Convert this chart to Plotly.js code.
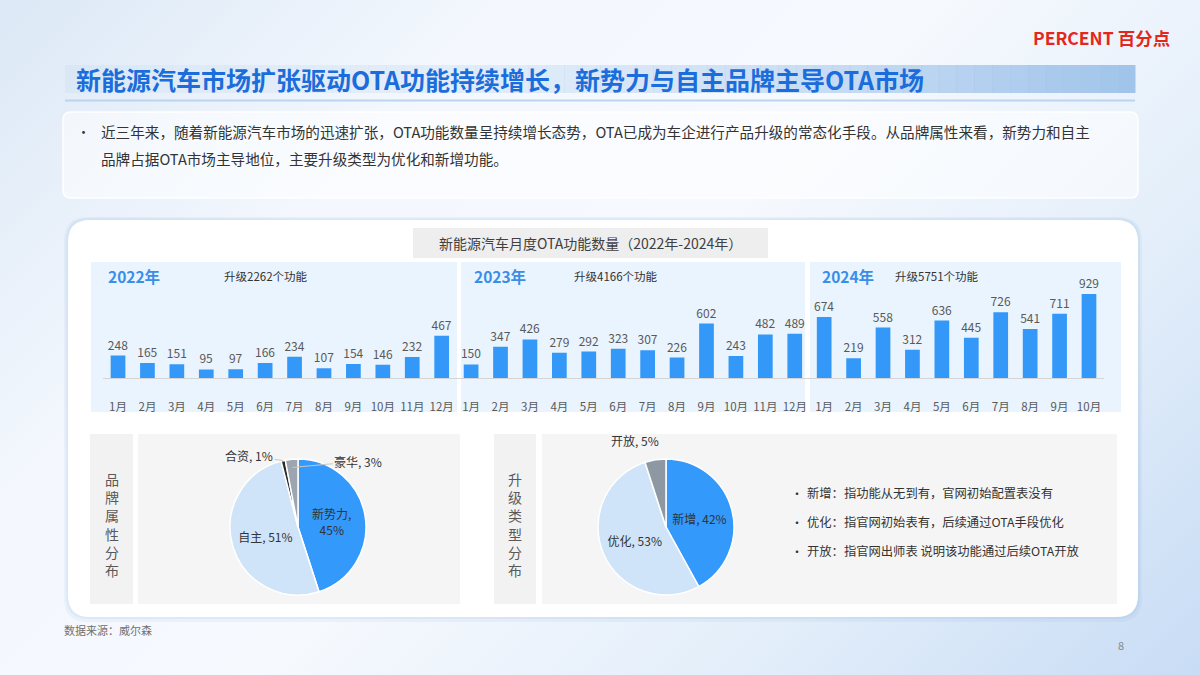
<!DOCTYPE html>
<html><head><meta charset="utf-8">
<script src="https://cdn.plot.ly/plotly-3.0.1.min.js"></script>
<style>
html,body{margin:0;padding:0;width:1200px;height:675px;overflow:hidden;
background:linear-gradient(135deg,#dce8f6 0%,#f4f8fe 28%,#f6f9fe 50%,#e3eefa 75%,#c8dcf5 100%);}
#chart{width:1200px;height:675px;}
</style></head><body><div id="chart"></div>
<script>
// ---------- data ----------
const pageTitle = '新能源汽车市场扩张驱动OTA功能持续增长，新势力与自主品牌主导OTA市场';
const summaryLines = [
  '近三年来，随着新能源汽车市场的迅速扩张，OTA功能数量呈持续增长态势，OTA已成为车企进行产品升级的常态化手段。从品牌属性来看，新势力和自主',
  '品牌占据OTA市场主导地位，主要升级类型为优化和新增功能。'
];
const chartTitle = '新能源汽车月度OTA功能数量（2022年-2024年）';
const years = ['2022年', '2023年', '2024年'];
const yearTotals = [2262, 4166, 5751];
const months2022 = ['1月','2月','3月','4月','5月','6月','7月','8月','9月','10月','11月','12月'];
const values2022 = [248,165,151,95,97,166,234,107,154,146,232,467];
const months2023 = ['1月','2月','3月','4月','5月','6月','7月','8月','9月','10月','11月','12月'];
const values2023 = [150,347,426,279,292,323,307,226,602,243,482,489];
const months2024 = ['1月','2月','3月','4月','5月','6月','7月','8月','9月','10月'];
const values2024 = [674,219,558,312,636,445,726,541,711,929];

const brandTitle = '品牌属性分布';
const brandLabels = ['新势力','自主','合资','豪华'];
const brandShares = [45,51,1,3];
const typeTitle = '升级类型分布';
const typeLabels = ['新增','优化','开放'];
const typeShares = [42,53,5];
const typeNotes = [
  '新增：指功能从无到有，官网初始配置表没有',
  '优化：指官网初始表有，后续通过OTA手段优化',
  '开放：指官网出师表 说明该功能通过后续OTA开放'
];
const sourceText = '数据来源：威尔森';
const pageNumber = '8';
const brandName = 'PERCENT 百分点';

// ---------- helpers ----------
const W = 1200, H = 675;
const px = x => x / W;
const py = y => 1 - y / H;
const FONT = '"Noto Sans CJK SC", "Noto Sans", sans-serif';
function rrect(x0, y0, x1, y1, r) {
  const P = (x, y) => px(x) + ',' + py(y);
  return 'M' + P(x0 + r, y0) + ' L' + P(x1 - r, y0) + ' Q' + P(x1, y0) + ' ' + P(x1, y0 + r) +
    ' L' + P(x1, y1 - r) + ' Q' + P(x1, y1) + ' ' + P(x1 - r, y1) +
    ' L' + P(x0 + r, y1) + ' Q' + P(x0, y1) + ' ' + P(x0, y1 - r) +
    ' L' + P(x0, y0 + r) + ' Q' + P(x0, y0) + ' ' + P(x0 + r, y0) + ' Z';
}
function pathShape(d, fill, line, lw) {
  return {type: 'path', xref: 'paper', yref: 'paper', path: d, fillcolor: fill,
    line: {color: line || 'rgba(0,0,0,0)', width: lw || 0}, layer: 'below'};
}
function rect(x0, y0, x1, y1, fill) {
  return {type: 'rect', xref: 'paper', yref: 'paper', x0: px(x0), x1: px(x1), y0: py(y1), y1: py(y0),
    fillcolor: fill, line: {width: 0}, layer: 'below'};
}
function txt(x, y, text, size, color, xanchor, extra) {
  return Object.assign({xref: 'paper', yref: 'paper', x: px(x), y: py(y), text: text, showarrow: false,
    xanchor: xanchor || 'left', yanchor: 'middle', font: {family: FONT, size: size, color: color}}, extra || {});
}

// ---------- bar data assembly ----------
const allMonths = months2022.concat(months2023, months2024);
const allValues = values2022.concat(values2023, values2024);
const idx = allValues.map((_, i) => i);

const shapes = [];
const annotations = [];

// card shadow + card
shapes.push(pathShape(rrect(64, 217, 1142, 622, 24), 'rgba(90,140,205,0.07)'));
shapes.push(pathShape(rrect(66, 218, 1140, 619, 23), 'rgba(90,140,205,0.08)'));
shapes.push(pathShape(rrect(68, 220, 1138, 617, 22), '#ffffff'));

// title bar gradient
const strips = 60, bx0 = 65, bx1 = 1135;
for (let i = 0; i < strips; i++) {
  const t = i / (strips - 1);
  const a = 0.12 + 0.88 * Math.pow(t, 2.2);
  shapes.push(rect(bx0 + (bx1 - bx0) * i / strips, 65, bx0 + (bx1 - bx0) * (i + 1) / strips + 0.5, 93,
    'rgba(160,196,234,' + a.toFixed(3) + ')'));
}
shapes.push({type: 'line', xref: 'paper', yref: 'paper', x0: px(65), x1: px(1135), y0: py(100.5), y1: py(100.5),
  line: {color: '#bcd4ef', width: 2}, layer: 'below'});

// summary box
shapes.push(pathShape(rrect(63, 112, 1138, 198, 8), 'rgba(255,255,255,0.55)', 'rgba(255,255,255,0.95)', 1.5));

// chart title box
shapes.push(rect(413, 228, 768, 258, '#eeeeee'));
// year panels
shapes.push(rect(91, 262, 457, 412, '#e9f4fe'));
shapes.push(rect(461, 262, 805, 412, '#e9f4fe'));
shapes.push(rect(810, 262, 1121, 412, '#e9f4fe'));

// bottom grey boxes
shapes.push(rect(90, 434, 133, 604, '#f2f2f2'));
shapes.push(rect(138, 434, 460, 604, '#f5f5f5'));
shapes.push(rect(494, 434, 536, 604, '#f2f2f2'));
shapes.push(rect(542, 434, 1117, 604, '#f5f5f5'));

// ---------- texts ----------
annotations.push(txt(1172, 38, brandName, 17.5, '#e5261a', 'right', {font: {family: FONT, size: 17.5, color: '#e5261a', weight: 'bold'}}));
annotations.push(txt(74, 79, pageTitle, 25, '#1a6ddb', 'left', {font: {family: FONT, size: 25, color: '#1a6ddb', weight: 'bold'}}));
annotations.push(txt(75, 131, '•', 13, '#333333', 'left'));
summaryLines.forEach((l, i) => annotations.push(txt(99, 131 + i * 28, l, 14.6, '#333333', 'left')));
annotations.push(txt(590, 243, chartTitle, 14, '#404040', 'center'));

const yearLabelX = [106, 472, 820];
const totalLabelX = [222, 572, 893];
years.forEach((y, i) => {
  annotations.push(txt(yearLabelX[i], 276, y, 15.5, '#3a8ee8', 'left', {font: {family: FONT, size: 15.5, color: '#3a8ee8', weight: 'bold'}}));
  annotations.push(txt(totalLabelX[i], 276, '升级' + yearTotals[i] + '个功能', 11.5, '#333333', 'left'));
});

annotations.push(txt(111.5, 524, brandTitle.split('').join('<br>'), 14, '#595959', 'center'));
annotations.push(txt(515, 524, typeTitle.split('').join('<br>'), 14, '#595959', 'center'));

typeNotes.forEach((n, i) => {
  annotations.push(txt(789, 493 + i * 29, '•', 12, '#333333', 'left'));
  annotations.push(txt(805, 493 + i * 29, n, 12.3, '#333333', 'left'));
});

annotations.push(txt(62, 630, sourceText, 11, '#707070', 'left'));
annotations.push(txt(1121, 645, pageNumber, 11, '#8a8a8a', 'center'));

// ---------- pie geometry & small slice labels ----------
const pie1 = {cx: 298, cy: 527, r: 68};
const pie2 = {cx: 666, cy: 527, r: 68};
function tip(values, k, p, f) {
  const tot = values.reduce((a, b) => a + b, 0);
  let before = 0; for (let i = 0; i < k; i++) before += values[i];
  const ang = (before + values[k] / 2) / tot * 2 * Math.PI;
  return {x: p.cx + p.r * f * Math.sin(ang), y: p.cy - p.r * f * Math.cos(ang)};
}
// 合资
let t = tip(brandShares, 2, pie1, 1.0);
annotations.push({xref: 'paper', yref: 'paper', x: px(t.x), y: py(t.y), ax: -34, ay: -5,
  text: brandLabels[2] + ', ' + brandShares[2] + '%', showarrow: true, arrowhead: 0, arrowwidth: 1, arrowcolor: '#c8c8c8',
  font: {family: FONT, size: 12, color: '#333333'}});
// 豪华
t = tip(brandShares, 3, pie1, 0.88);
annotations.push({xref: 'paper', yref: 'paper', x: px(t.x), y: py(t.y), ax: 66, ay: -6,
  text: brandLabels[3] + ', ' + brandShares[3] + '%', showarrow: true, arrowhead: 0, arrowwidth: 1, arrowcolor: '#c8c8c8',
  font: {family: FONT, size: 12, color: '#333333'}});
// 开放
t = tip(typeShares, 2, pie2, 1.0);
annotations.push({xref: 'paper', yref: 'paper', x: px(t.x), y: py(t.y), ax: -20, ay: -9,
  text: typeLabels[2] + ', ' + typeShares[2] + '%', showarrow: false, xshift: -20, yshift: 9,
  font: {family: FONT, size: 12, color: '#333333'}});

// ---------- traces ----------
const barTrace = {
  type: 'bar', x: idx, y: allValues, width: 0.5,
  marker: {color: '#3398f8'},
  text: allValues.map(String), textposition: 'outside', constraintext: 'none', cliponaxis: false,
  textfont: {family: FONT, size: 12, color: '#595959'},
  hoverinfo: 'none', showlegend: false
};
const pieBrand = {
  type: 'pie', labels: brandLabels, values: brandShares, sort: false, direction: 'clockwise', rotation: 0,
  domain: {x: [px(pie1.cx - pie1.r), px(pie1.cx + pie1.r)], y: [py(pie1.cy + pie1.r), py(pie1.cy - pie1.r)]},
  marker: {colors: ['#3399fb', '#cfe4f9', '#2a2a2a', '#9da6b0'], line: {color: '#ffffff', width: 1.5}},
  texttemplate: ['%{label},<br>%{value}%', '%{label}, %{value}%', '', ''],
  textposition: 'inside', insidetextorientation: 'horizontal',
  textfont: {family: FONT, size: 12, color: '#333333'},
  hoverinfo: 'none', showlegend: false
};
const pieType = {
  type: 'pie', labels: typeLabels, values: typeShares, sort: false, direction: 'clockwise', rotation: 0,
  domain: {x: [px(pie2.cx - pie2.r), px(pie2.cx + pie2.r)], y: [py(pie2.cy + pie2.r), py(pie2.cy - pie2.r)]},
  marker: {colors: ['#3399fb', '#cfe4f9', '#8e98a3'], line: {color: '#ffffff', width: 1.5}},
  texttemplate: ['%{label}, %{value}%', '%{label}, %{value}%', ''],
  textposition: 'inside', insidetextorientation: 'horizontal',
  textfont: {family: FONT, size: 12, color: '#333333'},
  hoverinfo: 'none', showlegend: false
};

const layout = {
  width: W, height: H, autosize: false,
  margin: {l: 0, r: 0, t: 0, b: 0, pad: 0},
  paper_bgcolor: 'rgba(0,0,0,0)', plot_bgcolor: 'rgba(0,0,0,0)',
  font: {family: FONT},
  bargap: 0.5,
  xaxis: {domain: [px(103.3), px(1103.7)], range: [-0.5, allValues.length - 0.5], tickmode: 'array',
    tickvals: idx, ticktext: allMonths, tickfont: {family: FONT, size: 11.5, color: '#595959'},
    showline: true, linecolor: '#d4d4d4', linewidth: 1, ticks: '', ticklabelstandoff: 18,
    showgrid: false, zeroline: false, fixedrange: true},
  yaxis: {domain: [py(378), py(262)], range: [0, 116 / 0.0904], showgrid: false, zeroline: false,
    showticklabels: false, showline: false, ticks: '', fixedrange: true},
  shapes: shapes, annotations: annotations
};

Plotly.newPlot('chart', [barTrace, pieBrand, pieType], layout, {staticPlot: true, displayModeBar: false});
</script></body></html>
